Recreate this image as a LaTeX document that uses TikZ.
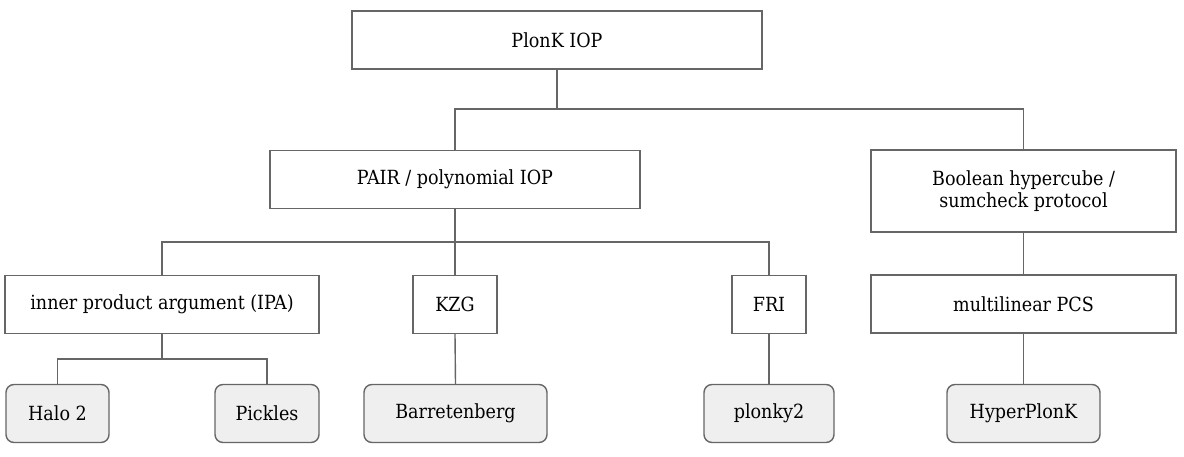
\documentclass[tikz,border=0pt]{standalone}
\usepackage{fontspec}
\setmainfont{DejaVu Serif Condensed}
\definecolor{linegray}{RGB}{102,102,102}
\definecolor{leafgray}{RGB}{239,239,239}
\tikzset{every picture/.style={line width=1.4pt}}
\tikzset{
  box/.style={draw=linegray, minimum height=58pt, inner sep=0pt, align=center, font=\fontsize{19.5}{22}\selectfont},
  leaf/.style={box, rounded corners=8pt, fill=leafgray},
  wire/.style={draw=linegray}
}

\begin{document}
\begin{tikzpicture}[x=1pt,y=1pt,yscale=-1,xscale=1]
    \useasboundingbox (0,0) rectangle (1184,457);

    % Top level
    \node [box, minimum width=410pt] (plonk) at (557,40) {PlonK IOP};
    % Second level
    \node [box, minimum width=370pt] (pair) at (455,179.5) {PAIR / polynomial IOP};
    \node [box, minimum width=305pt, minimum height=82pt] (bool) at (1023.5,191) {Boolean hypercube /\\sumcheck protocol};
    % Commitment schemes
    \node [box, minimum width=314pt] (ipa) at (162,304.5) {inner product argument (IPA)};
    \node [box, minimum width=84pt] (kzg) at (455,304.5) {KZG};
    \node [box, minimum width=74pt] (fri) at (769,304.5) {FRI};
    \node [box, minimum width=305pt] (mpcs) at (1023.5,304) {multilinear PCS};
    % Implementations
    \node [leaf, minimum width=103pt] (halo) at (57.5,413.5) {Halo 2};
    \node [leaf, minimum width=104pt] (pickles) at (267,413.5) {Pickles};
    \node [leaf, minimum width=183pt] (barr) at (455.5,413.5) {Barretenberg};
    \node [leaf, minimum width=130pt] (plonky) at (769,413.5) {plonky2};
    \node [leaf, minimum width=153pt] (hyper) at (1023.5,413.5) {HyperPlonK};

    % Junctions
    \coordinate (jtop) at (557,109);
    \coordinate (jpair) at (455,242);
    \coordinate (jipa) at (162,359);

    % Connectors
    \draw [wire] (plonk.south) -- (jtop);
    \draw [wire] (pair.north) |- (jtop) -| (bool.north);
    \draw [wire] (pair.south) -- (jpair);
    \draw [wire] (ipa.north) |- (jpair) -| (fri.north);
    \draw [wire] (jpair) -- (kzg.north);
    \draw [wire] (bool.south) -- (mpcs.north);
    \draw [wire] (ipa.south) -- (jipa);
    \draw [wire] (halo.north) |- (jipa) -| (pickles.north);
    \draw [wire] (kzg.south) -- (barr.north);
    \draw [wire] (fri.south) -- (plonky.north);
    \draw [wire] (mpcs.south) -- (hyper.north);

\end{tikzpicture}
\end{document}
